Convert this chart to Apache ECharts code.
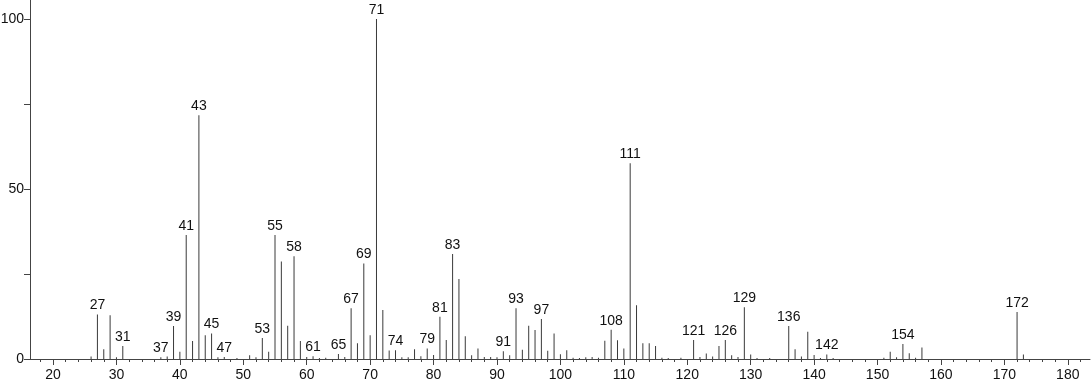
<!DOCTYPE html>
<html>
<head>
<meta charset="utf-8">
<script src="https://cdn.jsdelivr.net/npm/echarts@6/dist/echarts.min.js"></script>
<style>
html,body{margin:0;padding:0;background:#fff;}
#chart{width:1092px;height:384px;}
</style>
</head>
<body>
<div id="chart"></div>
<script>
// m/z values and relative intensities
const mz = [26,27,28,29,30,31,37,38,39,40,41,42,43,44,45,46,47,49,51,52,53,54,55,56,57,58,59,60,61,62,63,65,66,67,68,69,70,71,72,73,74,75,76,77,78,79,80,81,82,83,84,85,86,87,88,89,90,91,92,93,94,95,96,97,98,99,100,101,102,103,104,105,106,107,108,109,110,111,112,113,114,115,116,117,119,121,122,123,124,125,126,127,128,129,130,131,133,136,137,138,139,140,141,142,143,151,152,153,154,155,156,157,172,173];
const intensity = [0.7,13.1,2.9,12.9,0.5,3.8,0.5,0.7,9.7,2.1,36.5,5.3,71.7,7.0,7.5,0.5,0.6,0.3,1.1,0.5,6.2,2.1,36.5,28.7,9.8,30.2,5.3,0.6,0.8,0.3,0.4,1.5,0.6,14.9,4.6,28.1,7.0,100,14.4,2.5,2.6,0.5,0.5,2.9,0.8,3.1,1.2,12.4,5.6,30.9,23.5,6.7,1.1,3.1,0.6,0.6,0.5,2.3,1.1,14.9,2.7,9.8,8.5,11.8,2.4,7.5,1.4,2.6,0.4,0.3,0.5,0.6,0.4,5.4,8.6,5.5,3.1,57.6,15.8,4.6,4.6,3.8,0.4,0.3,0.4,5.6,0.6,1.6,0.7,3.8,5.6,1.1,0.6,15.2,1.3,0.3,0.3,9.7,2.9,0.7,8.0,1.2,0.3,1.3,0.3,0.4,2.1,0.5,4.4,1.7,0.4,3.4,13.8,1.3];
const labelled = [27,31,37,39,41,43,45,47,53,55,58,61,65,67,69,71,74,79,81,83,91,93,97,108,111,121,126,129,136,142,154,172];
const majorTicks = [20,30,40,50,60,70,80,90,100,110,120,130,140,150,160,170,180];
const minorTicks = [18,22,24,26,28,32,34,36,38,42,44,46,48,52,54,56,58,62,64,66,68,72,74,76,78,82,84,86,88,92,94,96,98,102,104,106,108,112,114,116,118,122,124,126,128,132,134,136,138,142,144,146,148,152,154,156,158,162,164,166,168,172,174,176,178,182];
const yTicks = [0,25,50,75,100];
const yLabels = [0,50,100];

const data = mz.map((m, i) => ({
  value: [m, intensity[i]],
  label: { show: labelled.indexOf(m) >= 0 }
}));

const chart = echarts.init(document.getElementById('chart'), null, {renderer: 'canvas'});
const font = '"Liberation Sans", Arial, sans-serif';
const axisColor = '#444';
chart.setOption({
  animation: false,
  grid: { left: 30, right: 2, top: 0, bottom: 25, containLabel: false, outerBoundsMode: 'none' },
  xAxis: [{
    type: 'value', position: 'bottom',
    min: 16.37, max: 183.5,
    splitLine: { show: false },
    axisLine: { show: true, onZero: false, lineStyle: { color: axisColor, width: 1 } },
    axisTick: { show: true, length: 6, customValues: majorTicks, lineStyle: { color: axisColor } },
    axisLabel: { customValues: majorTicks, color: '#111', fontSize: 14, fontFamily: font, margin: 9 }
  }, {
    type: 'value', position: 'bottom',
    min: 16.37, max: 183.5,
    splitLine: { show: false },
    axisLine: { show: false },
    axisTick: { show: true, length: 3, customValues: minorTicks, lineStyle: { color: axisColor } },
    axisLabel: { show: false }
  }],
  yAxis: {
    type: 'value', min: 0, max: 105.6,
    splitLine: { show: false },
    axisLine: { show: true, lineStyle: { color: axisColor, width: 1 } },
    axisTick: { show: true, length: 6, customValues: yTicks, lineStyle: { color: axisColor } },
    axisLabel: { customValues: yLabels, color: '#111', fontSize: 14, fontFamily: font, margin: 6 }
  },
  series: [{
    type: 'bar',
    xAxisIndex: 0,
    barWidth: 1,
    itemStyle: { color: '#3a3a3a' },
    label: {
      position: 'top', distance: 2,
      color: '#111', fontSize: 14, fontFamily: font,
      formatter: p => String(p.value[0])
    },
    labelLayout: { hideOverlap: false },
    data: data
  }]
});
</script>
</body>
</html>
